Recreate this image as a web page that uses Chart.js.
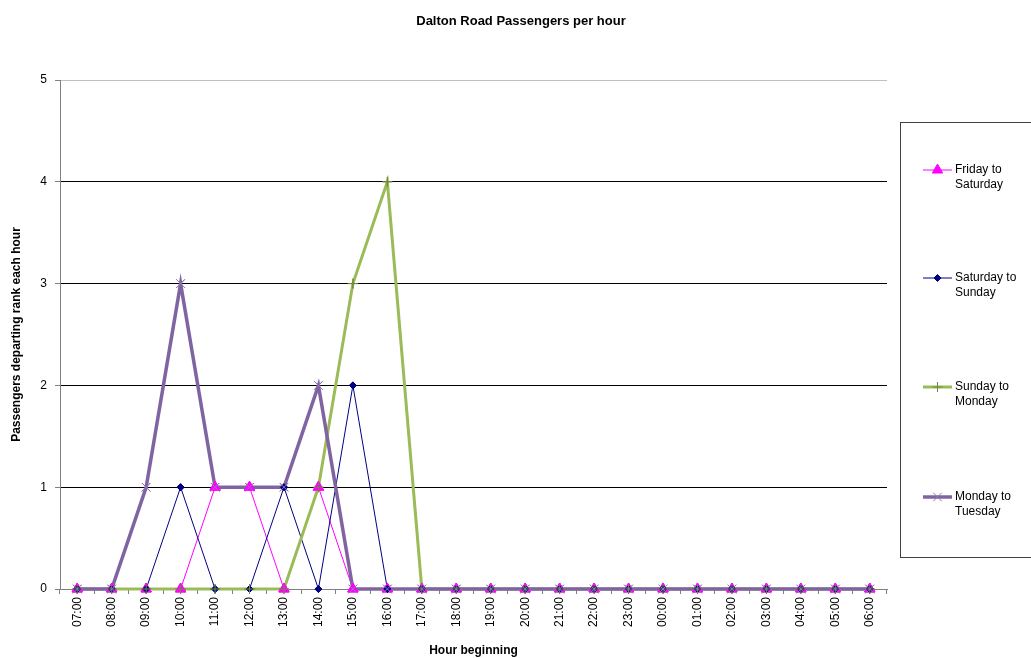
<!DOCTYPE html>
<html>
<head>
<meta charset="utf-8">
<title>Dalton Road Passengers per hour</title>
<script src="https://cdn.jsdelivr.net/npm/chart.js@4/dist/chart.umd.min.js"></script>
<style>
    html, body { margin: 0; padding: 0; background: #fff; }
    #wrap { width: 1031px; height: 658px; position: relative; }
</style>
</head>
<body>
<div id="wrap"><canvas id="passengerChart"></canvas></div>
<script>
const hours = ["07:00","08:00","09:00","10:00","11:00","12:00","13:00","14:00","15:00","16:00","17:00","18:00",
               "19:00","20:00","21:00","22:00","23:00","00:00","01:00","02:00","03:00","04:00","05:00","06:00"];

const fridayToSaturday  = [0,0,0,0,1,1,0,1,0,0,0,0,0,0,0,0,0,0,0,0,0,0,0,0];
const saturdayToSunday  = [0,0,0,1,0,0,1,0,2,0,0,0,0,0,0,0,0,0,0,0,0,0,0,0];
const sundayToMonday    = [0,0,0,0,0,0,0,1,3,4,0,0,0,0,0,0,0,0,0,0,0,0,0,0];
const mondayToTuesday   = [0,0,1,3,1,1,1,2,0,0,0,0,0,0,0,0,0,0,0,0,0,0,0,0];

const yTicks = [0, 1, 2, 3, 4, 5];

const FONT = "'Liberation Sans', Arial, sans-serif";

// wrap a legend label onto lines no wider than maxWidth
function wrapText(ctx, text, maxWidth) {
    const words = text.split(" ");
    const lines = [];
    let line = "";
    words.forEach(w => {
        const test = line ? line + " " + w : w;
        if (line && ctx.measureText(test).width > maxWidth) {
            lines.push(line);
            line = w;
        } else {
            line = test;
        }
    });
    if (line) lines.push(line);
    return lines;
}

// markers go on top of every line, series by series
const markersOnTop = {
    id: "markersOnTop",
    afterDatasetsDraw(chart) {
        const ctx = chart.ctx;
        chart.data.datasets.forEach((ds, i) => {
            const meta = chart.getDatasetMeta(i);
            meta.data.forEach(pt => pt.draw(ctx, chart.chartArea));
        });
    }
};

// title across the top and the boxed legend on the right
const decorations = {
    id: "decorations",
    afterDraw(chart) {
        const ctx = chart.ctx;
        ctx.save();
        ctx.fillStyle = "#000";
        ctx.font = "bold 13px " + FONT;
        ctx.textAlign = "center";
        ctx.textBaseline = "middle";
        ctx.fillText("Dalton Road Passengers per hour", 521, 21);

        // legend frame
        ctx.strokeStyle = "#404040";
        ctx.lineWidth = 1;
        ctx.strokeRect(900.5, 122.5, 140, 435);

        const rows = [170, 278, 387, 497];
        ctx.font = "12px " + FONT;
        ctx.textAlign = "left";
        chart.data.datasets.forEach((ds, i) => {
            const y = rows[i];
            ctx.strokeStyle = ds.borderColor;
            ctx.lineWidth = ds.borderWidth;
            ctx.beginPath();
            ctx.moveTo(923, y);
            ctx.lineTo(952, y);
            ctx.stroke();
            ctx.fillStyle = ds.pointBackgroundColor;
            ctx.strokeStyle = ds.pointBorderColor;
            ctx.lineWidth = 1;
            Chart.helpers.drawPoint(ctx, {
                pointStyle: ds.pointStyle,
                radius: ds.pointRadius,
                rotation: 0,
                borderWidth: 1
            }, 937.5, y);
            ctx.fillStyle = "#000";
            wrapText(ctx, ds.label, 72).forEach((ln, k) => {
                ctx.fillText(ln, 955, y + k * 15);
            });
        });
        ctx.restore();
    }
};

new Chart(document.getElementById("passengerChart"), {
    type: "line",
    data: {
        labels: hours,
        datasets: [
            {
                label: "Friday to Saturday",
                data: fridayToSaturday,
                borderColor: "#FF00FF",
                borderWidth: 1,
                pointStyle: "triangle",
                pointRadius: 6,
                pointBorderWidth: 1,
                pointBackgroundColor: "#FF00FF",
                pointBorderColor: "#FF00FF",
                order: 4
            },
            {
                label: "Saturday to Sunday",
                data: saturdayToSunday,
                borderColor: "#000080",
                borderWidth: 1,
                pointStyle: "rectRot",
                pointRadius: 3.5,
                pointBorderWidth: 1,
                pointBackgroundColor: "#000080",
                pointBorderColor: "#000080",
                order: 3
            },
            {
                label: "Sunday to Monday",
                data: sundayToMonday,
                borderColor: "#9BBB59",
                borderWidth: 3,
                pointStyle: "cross",
                pointRadius: 5,
                pointBorderWidth: 1,
                pointBackgroundColor: "#9BBB59",
                pointBorderColor: "#6F8A3A",
                order: 2
            },
            {
                label: "Monday to Tuesday",
                data: mondayToTuesday,
                borderColor: "#8064A2",
                borderWidth: 3.5,
                pointStyle: "crossRot",
                pointRadius: 6,
                pointBorderWidth: 1,
                pointBackgroundColor: "#9A86BC",
                pointBorderColor: "#8E78B0",
                order: 1
            }
        ]
    },
    options: {
        responsive: true,
        maintainAspectRatio: false,
        animation: false,
        layout: { padding: { top: 80, right: 144, left: 0, bottom: 0 } },
        elements: {
            line: { tension: 0, fill: false }
        },
        datasets: { line: { clip: false } },
        scales: {
            x: {
                offset: true,
                afterFit: s => { s.height = 69; },
                grid: {
                    offset: true,
                    drawOnChartArea: false,
                    drawTicks: true,
                    tickLength: 5,
                    color: "#808080"
                },
                border: { color: "#808080", width: 1 },
                ticks: {
                    autoSkip: false,
                    maxRotation: 90,
                    minRotation: 90,
                    padding: 3,
                    color: "#000",
                    font: { family: FONT, size: 12 }
                },
                title: {
                    display: true,
                    text: "Hour beginning",
                    color: "#000",
                    font: { family: FONT, size: 12, weight: "bold" },
                    padding: { top: 2, bottom: 0 }
                }
            },
            y: {
                min: yTicks[0],
                max: yTicks[yTicks.length - 1],
                afterFit: s => { s.width = 60; },
                afterBuildTicks: s => { s.ticks = yTicks.map(v => ({ value: v })); },
                grid: {
                    color: ctx => ctx.tick && ctx.tick.value === 5 ? "#c0c0c0" : "#000",
                    tickLength: 5,
                    tickColor: "#808080"
                },
                border: { color: "#808080", width: 1 },
                ticks: {
                    stepSize: 1,
                    padding: 8,
                    color: "#000",
                    font: { family: FONT, size: 12 }
                },
                title: {
                    display: true,
                    text: "Passengers departing rank each hour",
                    color: "#000",
                    font: { family: FONT, size: 12, weight: "bold" },
                    padding: { top: 9, bottom: 0 }
                }
            }
        },
        plugins: {
            legend: { display: false },
            tooltip: { enabled: false }
        }
    },
    plugins: [markersOnTop, decorations]
});
</script>
</body>
</html>
